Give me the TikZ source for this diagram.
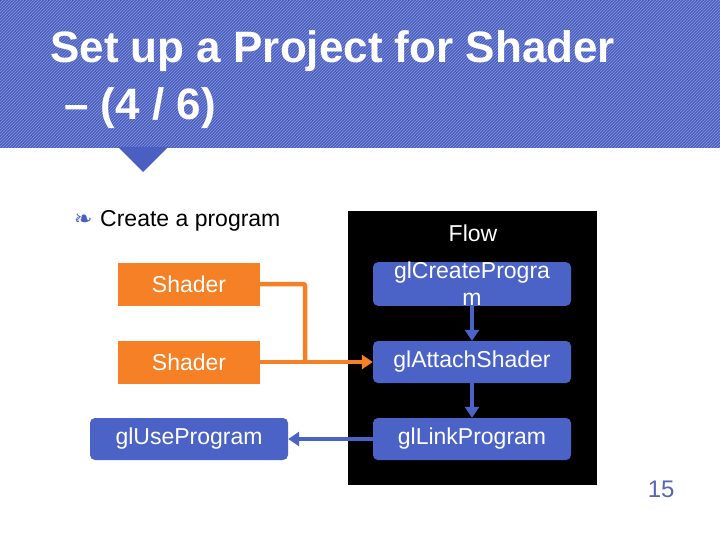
\documentclass[tikz,border=0pt]{standalone}
\usepackage{fontspec}
\setmainfont{Liberation Sans}
\newfontfamily\djsym{DejaVu Sans}
\usetikzlibrary{arrows.meta,patterns}
\definecolor{hb}{HTML}{4A5FC1}
\definecolor{bb}{HTML}{4B63C6}
\definecolor{orng}{HTML}{F58025}
\begin{document}
\begin{tikzpicture}[x=1pt,y=-1pt,
  ob/.style={fill=orng,text=white,font=\fontsize{23}{25}\selectfont,minimum width=142pt,minimum height=43pt,inner sep=0pt},
  bbx/.style={fill=bb,text=white,rounded corners=5pt,font=\fontsize{23}{23}\selectfont,minimum width=198pt,minimum height=42pt,inner sep=0pt,align=center},
  oline/.style={draw=orng,line width=4.5pt},
  bline/.style={draw=bb,line width=4pt},
  tip/.style={-{Triangle[length=11pt,width=14pt]}}]
\useasboundingbox (0,0) rectangle (720,540);
\fill[white] (0,0) rectangle (720,540);
\fill[hb] (0,0) rectangle (720,148);
\fill[pattern=north east lines,pattern color=white!35!hb] (0,0) rectangle (720,148);
\fill[hb] (118,147) -- (168,147) -- (143,172) -- cycle;
\node[anchor=base west,text=white,font=\fontsize{44}{48}\selectfont\bfseries,inner sep=0pt] (t1) at (50,63) {Set up a Project for Shader};
\node[anchor=base west,text=white,font=\fontsize{44}{48}\selectfont\bfseries,inner sep=0pt] (t2) at (64,120) {– (4 / 6)};
\node[anchor=base west,inner sep=0pt,text=hb,font=\djsym\fontsize{22}{22}\selectfont] (bul) at (74,226) {❧};
\node[anchor=base west,inner sep=0pt,font=\fontsize{23}{23}\selectfont] (btxt) at (100,226) {Create a program};
\fill[black] (348,211) rectangle (597,485);
\node[text=white,font=\fontsize{23}{23}\selectfont] (flow) at (473,233) {Flow};
\node[ob] (s1) at (189,284) {Shader};
\node[ob] (s2) at (189,362) {Shader};
\node[bbx] (use) at (189,439) {glUseProgram};
\node[bbx] (cp) at (472,284) {\raisebox{6pt}{glCreateProgra}\\[-2pt]m};
\node[bbx] (at) at (472,362) {glAttachShader};
\node[bbx] (lk) at (472,439) {glLinkProgram};
\draw[oline,rounded corners=2pt] (s1.east) -- (305,284) -- (305,362);
\draw[oline,tip] (s2.east) -- (at.west);
\draw[bline,tip] (lk.west) -- (use.east);
\draw[bline,tip] (cp.south) -- (at.north);
\draw[bline,tip] (at.south) -- (lk.north);
\node[anchor=base east,text=hb!75!gray,font=\fontsize{24}{24}\selectfont] (pg) at (678,497) {15};
\end{tikzpicture}
\end{document}
